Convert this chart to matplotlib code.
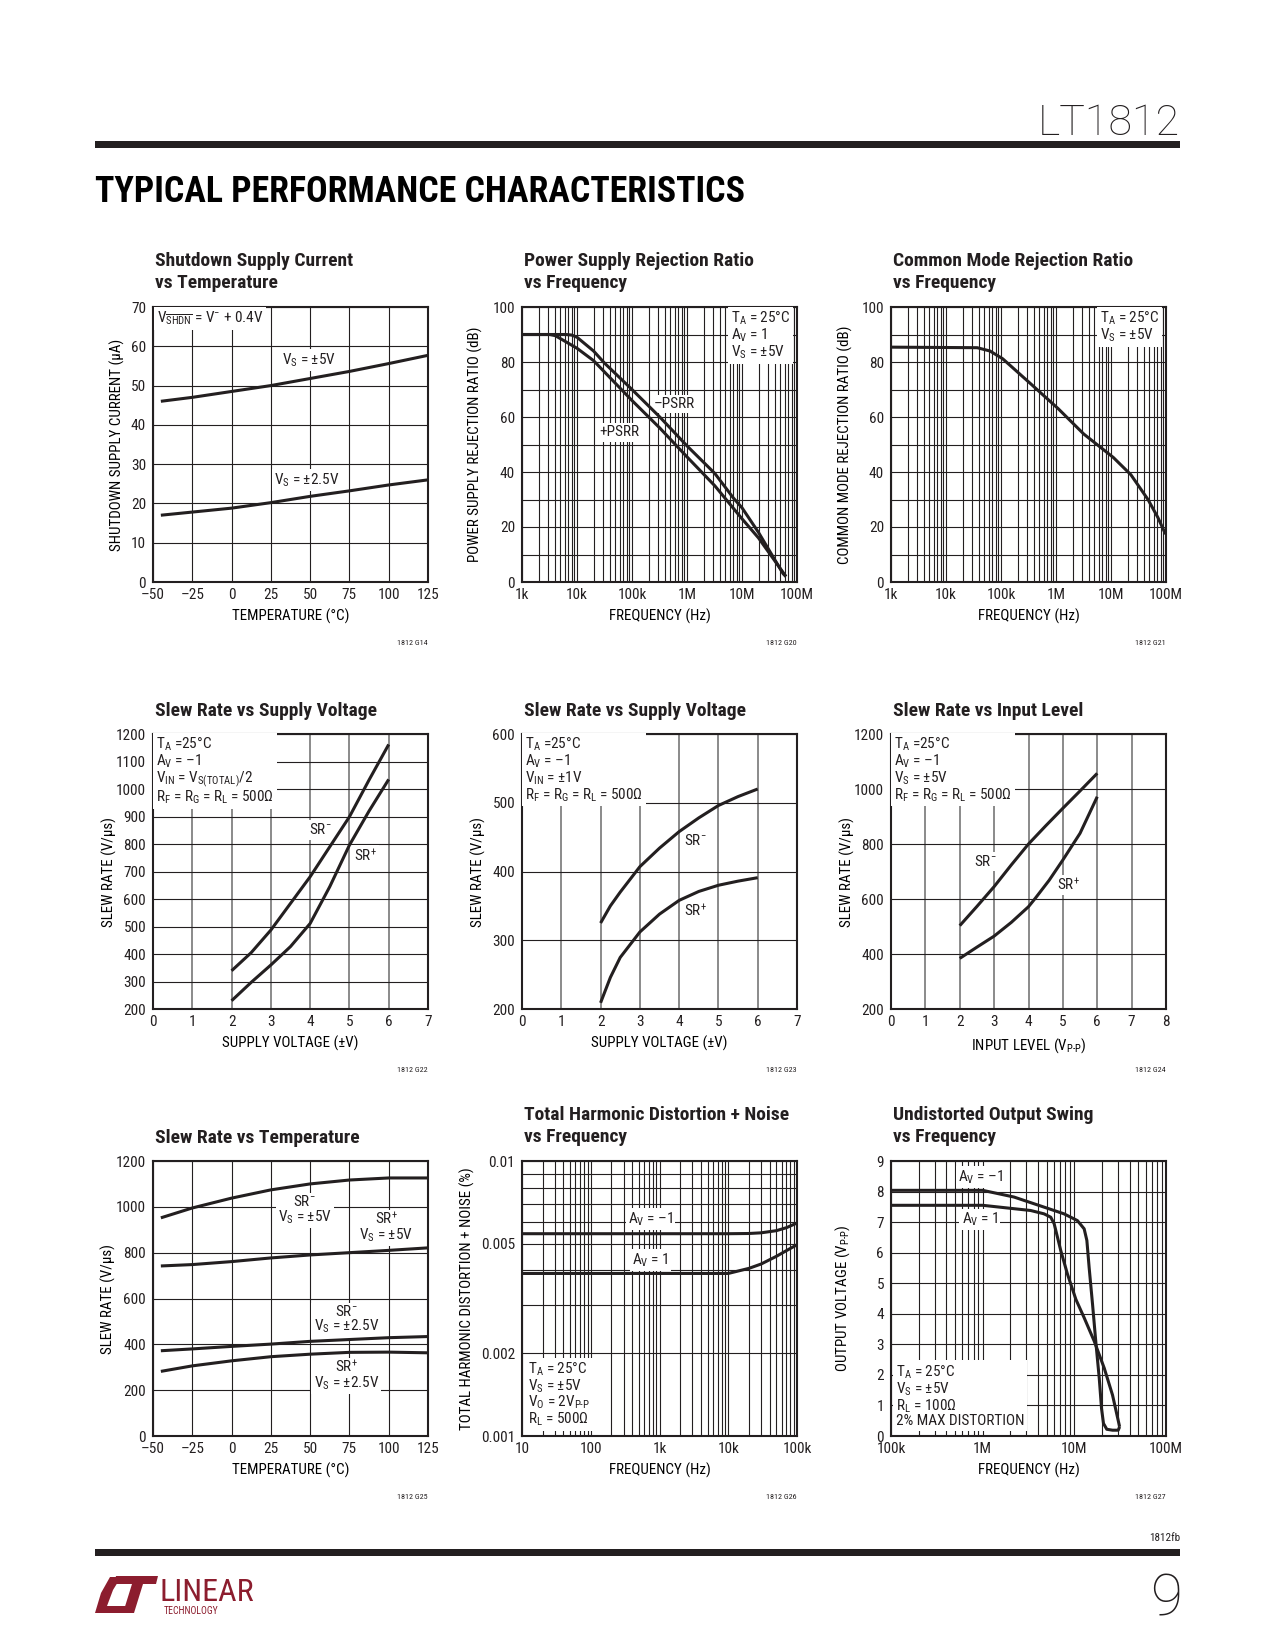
import matplotlib
matplotlib.use('Agg')
import matplotlib.pyplot as plt
from matplotlib import font_manager
from matplotlib.patches import Rectangle, Polygon
from matplotlib.ticker import NullFormatter

W, H = 1275, 1650
INK = '#231f20'
RED = '#8c1d2e'

names = {f.name for f in font_manager.fontManager.ttflist}


def pick(cands):
    for c in cands:
        if c in names:
            return c
    return 'DejaVu Sans'


BODY = pick(['Roboto Condensed', 'Archivo Narrow', 'PT Sans Narrow', 'Liberation Sans Narrow',
             'Liberation Sans'])
THIN = pick(['Roboto', 'Liberation Sans'])

plt.rcParams['font.family'] = [BODY, 'DejaVu Sans']
plt.rcParams['mathtext.fontset'] = 'custom'
plt.rcParams['mathtext.rm'] = BODY
plt.rcParams['mathtext.it'] = BODY + ':italic'
plt.rcParams['mathtext.bf'] = BODY + ':bold'
plt.rcParams['text.color'] = INK

# --- data ---
# shutdown supply current vs temperature
sd_temp = [-45, -25, 0, 25, 50, 75, 100, 125]
sd_5v = [46.0, 47.0, 48.5, 50.0, 51.8, 53.6, 55.6, 57.7]
sd_25v = [17.0, 17.8, 18.8, 20.2, 21.8, 23.2, 24.7, 26.0]

# PSRR vs frequency
psrr_neg_f = [1e3, 4e3, 6.3e3, 8e3, 1e4, 2e4, 3.2e4, 1e5, 3.2e5, 1e6, 3.2e6, 7e6, 1e7, 2e7, 5.6e7, 6.3e7]
psrr_neg = [90, 90, 90, 89.8, 89, 84, 79.5, 70, 60, 49.5, 39.5, 30.5, 27, 18, 3, 2]
psrr_pos_f = [1e3, 3.2e3, 4e3, 5e3, 1e4, 2e4, 1e5, 3.2e5, 1e6, 3.2e6, 1e7, 2e7, 6.3e7]
psrr_pos = [90, 90, 89.6, 88.5, 85, 80.5, 66, 56, 45.5, 35, 23, 16, 2]

# CMRR vs frequency
cmrr_f = [1e3, 3.7e4, 6.3e4, 1.07e5, 3.5e5, 1.1e6, 3.2e6, 1.1e7, 2.3e7, 4.7e7, 7.1e7, 9.8e7]
cmrr = [85.4, 85.2, 84.0, 81.2, 72, 63, 53.8, 45.3, 39, 30, 23.5, 17.4]

# slew rate vs supply voltage, VIN = VS(TOTAL)/2
sr4_vs = [2, 2.5, 3, 3.5, 4, 4.5, 5, 5.5, 6]
sr4_neg = [339, 405, 487, 584, 681, 790, 899, 1033, 1162]
sr4_pos = [230, 297, 360, 427, 511, 645, 796, 920, 1035]

# slew rate vs supply voltage, VIN = +-1V
sr5_vs = [2, 2.25, 2.5, 3, 3.5, 4, 4.5, 5, 5.5, 6]
sr5_neg = [325, 350, 370, 407, 434, 458, 478, 496, 509, 520]
sr5_pos = [209, 246, 275, 312, 338, 358, 371, 380, 386, 391]

# slew rate vs input level
sr6_lvl_neg = [2, 2.5, 3, 3.5, 4, 4.5, 5, 5.5, 6]
sr6_neg = [503, 573, 645, 724, 800, 866, 930, 993, 1057]
sr6_lvl_pos = [2, 2.5, 3, 3.5, 4, 4.2, 4.6, 5, 5.5, 6]
sr6_pos = [384, 425, 465, 515, 572, 603, 668, 742, 839, 972]

# slew rate vs temperature
sr7_temp = [-45, -25, 0, 25, 50, 75, 100, 125]
sr7_neg5 = [952, 995, 1038, 1074, 1100, 1117, 1126, 1126]
sr7_pos5 = [742, 748, 761, 777, 790, 800, 810, 821]
sr7_neg25 = [372, 380, 391, 401, 413, 421, 429, 434]
sr7_pos25 = [282, 306, 328, 346, 357, 365, 366, 363]

# THD + noise vs frequency
thd_f = [10, 1e3, 1e4, 2e4, 3e4, 5e4, 7e4, 1e5]
thd_inv = [0.00544, 0.00544, 0.00544, 0.00545, 0.00548, 0.00558, 0.00572, 0.00595]
thd_ninv = [0.0039, 0.0039, 0.0039, 0.00407, 0.00422, 0.0045, 0.00472, 0.00496]

# undistorted output swing vs frequency
sw_inv_f = [1e5, 1.0e6, 2.2e6, 4.68e6, 7.73e6, 1.08e7, 1.28e7, 1.37e7, 1.45e7, 1.58e7, 1.72e7,
            1.87e7, 1.98e7, 2.08e7, 2.26e7, 2.61e7, 3.01e7, 3.12e7]
sw_inv = [8.04, 8.04, 7.82, 7.49, 7.27, 7.05, 6.78, 6.40, 5.52, 4.31, 3.04,
          1.89, 0.90, 0.41, 0.22, 0.19, 0.19, 0.30]
sw_ninv_f = [1e5, 1.0e6, 3.34e6, 4.68e6, 5.53e6, 6.02e6, 7.11e6, 8.41e6, 1.04e7, 1.28e7,
             1.65e7, 2.12e7, 2.61e7, 3.12e7]
sw_ninv = [7.55, 7.55, 7.38, 7.27, 7.16, 6.95, 6.07, 5.30, 4.47, 3.87, 3.10, 2.22, 1.34, 0.30]

temp_ticks = [-50, -25, 0, 25, 50, 75, 100, 125]
temp_labels = ['\u201350', '\u201325', '0', '25', '50', '75', '100', '125']

TICK = 11
LAB = 10.8
NOTE = 11

fig = plt.figure(figsize=(W / 100, H / 100), dpi=100)


def fx(x):
    return x / W


def fy(y):
    return 1 - y / H


def make_ax(x0, y0, w=275, h=275):
    return fig.add_axes([fx(x0), fy(y0 + h), w / W, h / H])


def decades(lo, hi):
    return [m * 10.0 ** e for e in range(lo, hi) for m in range(2, 10)]


def frame(ax, xt, xtl, yt, ytl, xlabel, ylabel, yoff, xminor=None, yminor=None,
          vcolor=INK, vlw=0.8):
    ax.set_xticks(xt)
    ax.set_xticklabels(xtl)
    ax.set_yticks(yt)
    ax.set_yticklabels(ytl)
    if xminor is not None:
        ax.set_xticks(xminor, minor=True)
        ax.xaxis.set_minor_formatter(NullFormatter())
    if yminor is not None:
        ax.set_yticks(yminor, minor=True)
        ax.yaxis.set_minor_formatter(NullFormatter())
    ax.tick_params(which='both', length=0, labelsize=TICK, colors=INK)
    ax.tick_params(axis='x', pad=4)
    ax.tick_params(axis='y', pad=5)
    ax.xaxis.grid(True, which='both', color=vcolor, lw=vlw)
    ax.yaxis.grid(True, which='both', color=INK, lw=0.8)
    ax.set_axisbelow(True)
    for s in ax.spines.values():
        s.set_linewidth(1.5)
        s.set_color(INK)
    ax.set_xlabel(xlabel, fontsize=LAB)
    ax.xaxis.set_label_coords(0.5, -27 / 275)
    ax.set_ylabel(ylabel, fontsize=LAB)
    ax.yaxis.set_label_coords(-yoff / 275, 0.5)


def title(x0, y0, lines):
    base = [y0 - 41, y0 - 19] if len(lines) == 2 else [y0 - 18]
    for s, b in zip(lines, base):
        fig.text(fx(x0 + 2), fy(b), s, fontsize=14, fontweight='bold', va='baseline', color=INK)


def code(x0, y0, s):
    fig.text(fx(x0 + 275), fy(y0 + 275 + 61), s, fontsize=5.8, ha='right', va='center')


def note(ax, dx, dy, s, va='top', ls=0.95):
    y = 1 - dy / 275 if va == 'top' else dy / 275
    ax.text(dx / 275, y, s, transform=ax.transAxes, fontsize=NOTE, va=va, ha='left',
            linespacing=ls, zorder=3,
            bbox=dict(fc='white', ec='none', pad=2))


def tag(ax, x, y, s, ha='center'):
    ax.text(x, y, s, fontsize=NOTE, ha=ha, va='center', linespacing=0.95, zorder=3,
            bbox=dict(fc='white', ec='none', pad=1.5))


def curve(ax, x, y):
    ax.plot(x, y, color=INK, lw=2.2, zorder=4, solid_capstyle='butt', solid_joinstyle='round')


cols = [153, 522, 891]
rows = [307, 734, 1161]

# ---------------- header / footer ----------------
fig.text(fx(1180), fy(135), 'LT1812', ha='right', va='baseline', fontsize=31,
         family=[THIN, 'DejaVu Sans'], fontweight='light', color=INK)
fig.add_artist(Rectangle((fx(95), fy(148)), fx(1180) - fx(95), 7 / H,
                         transform=fig.transFigure, color=INK, lw=0))
fig.text(fx(95), fy(202), 'TYPICAL PERFORMANCE CHARACTERISTICS', ha='left', va='baseline',
         fontsize=25.8, fontweight='bold', color='black')

fig.text(fx(1180), fy(1541), '1812fb', ha='right', va='baseline', fontsize=8)
fig.add_artist(Rectangle((fx(95), fy(1556)), fx(1180) - fx(95), 7 / H,
                         transform=fig.transFigure, color=INK, lw=0))
fig.text(fx(1182), fy(1615), '9', ha='right', va='baseline', fontsize=42,
         family=[THIN, 'DejaVu Sans'], fontweight='light', color=INK)

logo_l = [(95, 1613), (128, 1613), (129, 1606), (107, 1606), (113, 1590), (121, 1577),
          (110, 1577), (101, 1593)]
logo_t = [(116, 1576), (158, 1576), (156, 1584), (143, 1584), (134, 1613), (123, 1613),
          (132, 1584), (114, 1584)]
for pts in (logo_l, logo_t):
    fig.add_artist(Polygon([(fx(a), fy(b)) for a, b in pts], closed=True,
                           transform=fig.transFigure, color=RED, lw=0))
fig.text(fx(160), fy(1601), 'LINEAR', ha='left', va='baseline', fontsize=23, color=RED)
fig.text(fx(164), fy(1614), 'TECHNOLOGY', ha='left', va='baseline', fontsize=7, color=RED)

# ---------------- 1: shutdown supply current ----------------
x0, y0 = cols[0], rows[0]
ax = make_ax(x0, y0)
curve(ax, sd_temp, sd_5v)
curve(ax, sd_temp, sd_25v)
ax.set_xlim(-50, 125)
ax.set_ylim(0, 70)
frame(ax, temp_ticks, temp_labels, list(range(0, 71, 10)), [str(v) for v in range(0, 71, 10)],
      'TEMPERATURE (\u00b0C)', 'SHUTDOWN SUPPLY CURRENT (\u03bcA)', 28)
note(ax, 4, 3, 'V$_{\\overline{\\mathrm{SHDN}}}$ = V$^{-}$ + 0.4V')
tag(ax, 49, 56.5, 'V$_\\mathrm{S}$ = \u00b15V')
tag(ax, 48, 26, 'V$_\\mathrm{S}$ = \u00b12.5V')
title(x0, y0, ['Shutdown Supply Current', 'vs Temperature'])
code(x0, y0, '1812 G14')

# ---------------- 2: PSRR ----------------
x0, y0 = cols[1], rows[0]
ax = make_ax(x0, y0)
ax.set_xscale('log')
curve(ax, psrr_neg_f, psrr_neg)
curve(ax, psrr_pos_f, psrr_pos)
ax.set_xlim(1e3, 1e8)
ax.set_ylim(0, 100)
frame(ax, [1e3, 1e4, 1e5, 1e6, 1e7, 1e8], ['1k', '10k', '100k', '1M', '10M', '100M'],
      list(range(0, 101, 20)), [str(v) for v in range(0, 101, 20)],
      'FREQUENCY (Hz)', 'POWER SUPPLY REJECTION RATIO (dB)', 39,
      xminor=decades(3, 8), yminor=list(range(10, 100, 20)))
note(ax, 209, 3, 'T$_\\mathrm{A}$ = 25\u00b0C\nA$_\\mathrm{V}$ = 1\nV$_\\mathrm{S}$ = \u00b15V')
tag(ax, 6.0e5, 64.8, '\u2013PSRR')
tag(ax, 5.9e4, 54.4, '+PSRR')
title(x0, y0, ['Power Supply Rejection Ratio', 'vs Frequency'])
code(x0, y0, '1812 G20')

# ---------------- 3: CMRR ----------------
x0, y0 = cols[2], rows[0]
ax = make_ax(x0, y0)
ax.set_xscale('log')
curve(ax, cmrr_f, cmrr)
ax.set_xlim(1e3, 1e8)
ax.set_ylim(0, 100)
frame(ax, [1e3, 1e4, 1e5, 1e6, 1e7, 1e8], ['1k', '10k', '100k', '1M', '10M', '100M'],
      list(range(0, 101, 20)), [str(v) for v in range(0, 101, 20)],
      'FREQUENCY (Hz)', 'COMMON MODE REJECTION RATIO (dB)', 38,
      xminor=decades(3, 8), yminor=list(range(10, 100, 20)))
note(ax, 209, 3, 'T$_\\mathrm{A}$ = 25\u00b0C\nV$_\\mathrm{S}$ = \u00b15V')
title(x0, y0, ['Common Mode Rejection Ratio', 'vs Frequency'])
code(x0, y0, '1812 G21')

# ---------------- 4: slew rate vs supply (VIN = VS/2) ----------------
x0, y0 = cols[0], rows[1]
ax = make_ax(x0, y0)
curve(ax, sr4_vs, sr4_neg)
curve(ax, sr4_vs, sr4_pos)
ax.set_xlim(0, 7)
ax.set_ylim(200, 1200)
frame(ax, list(range(8)), [str(v) for v in range(8)],
      list(range(200, 1201, 100)), [str(v) for v in range(200, 1201, 100)],
      'SUPPLY VOLTAGE (\u00b1V)', 'SLEW RATE (V/\u03bcs)', 36, vcolor='#8a8a8a', vlw=1.4)
note(ax, 3, 2, 'T$_\\mathrm{A}$ =25\u00b0C\nA$_\\mathrm{V}$ = \u20131\n'
      'V$_\\mathrm{IN}$ = V$_\\mathrm{S(TOTAL)}$/2\nR$_\\mathrm{F}$ = R$_\\mathrm{G}$ = R$_\\mathrm{L}$ = 500\u03a9')
tag(ax, 4.26, 851, 'SR$^{-}$')
tag(ax, 5.4, 757, 'SR$^{+}$')
title(x0, y0, ['Slew Rate vs Supply Voltage'])
code(x0, y0, '1812 G22')

# ---------------- 5: slew rate vs supply (VIN = +-1V) ----------------
x0, y0 = cols[1], rows[1]
ax = make_ax(x0, y0)
curve(ax, sr5_vs, sr5_neg)
curve(ax, sr5_vs, sr5_pos)
ax.set_xlim(0, 7)
ax.set_ylim(200, 600)
frame(ax, list(range(8)), [str(v) for v in range(8)],
      list(range(200, 601, 100)), [str(v) for v in range(200, 601, 100)],
      'SUPPLY VOLTAGE (\u00b1V)', 'SLEW RATE (V/\u03bcs)', 36, vcolor='#8a8a8a', vlw=1.4)
note(ax, 3, 2, 'T$_\\mathrm{A}$ =25\u00b0C\nA$_\\mathrm{V}$ = \u20131\n'
      'V$_\\mathrm{IN}$ = \u00b11V\nR$_\\mathrm{F}$ = R$_\\mathrm{G}$ = R$_\\mathrm{L}$ = 500\u03a9')
tag(ax, 4.41, 445, 'SR$^{-}$')
tag(ax, 4.41, 343, 'SR$^{+}$')
title(x0, y0, ['Slew Rate vs Supply Voltage'])
code(x0, y0, '1812 G23')

# ---------------- 6: slew rate vs input level ----------------
x0, y0 = cols[2], rows[1]
ax = make_ax(x0, y0)
curve(ax, sr6_lvl_neg, sr6_neg)
curve(ax, sr6_lvl_pos, sr6_pos)
ax.set_xlim(0, 8)
ax.set_ylim(200, 1200)
frame(ax, list(range(9)), [str(v) for v in range(9)],
      list(range(200, 1201, 200)), [str(v) for v in range(200, 1201, 200)],
      'INPUT LEVEL (V$_\\mathrm{P\\text{-}P}$)', 'SLEW RATE (V/\u03bcs)', 36,
      vcolor='#8a8a8a', vlw=1.4)
note(ax, 3, 2, 'T$_\\mathrm{A}$ =25\u00b0C\nA$_\\mathrm{V}$ = \u20131\n'
      'V$_\\mathrm{S}$ = \u00b15V\nR$_\\mathrm{F}$ = R$_\\mathrm{G}$ = R$_\\mathrm{L}$ = 500\u03a9')
tag(ax, 2.74, 736, 'SR$^{-}$')
tag(ax, 5.17, 651, 'SR$^{+}$')
title(x0, y0, ['Slew Rate vs Input Level'])
code(x0, y0, '1812 G24')

# ---------------- 7: slew rate vs temperature ----------------
x0, y0 = cols[0], rows[2]
ax = make_ax(x0, y0)
for s in (sr7_neg5, sr7_pos5, sr7_neg25, sr7_pos25):
    curve(ax, sr7_temp, s)
ax.set_xlim(-50, 125)
ax.set_ylim(0, 1200)
frame(ax, temp_ticks, temp_labels,
      list(range(0, 1201, 200)), [str(v) for v in range(0, 1201, 200)],
      'TEMPERATURE (\u00b0C)', 'SLEW RATE (V/\u03bcs)', 37)
tag(ax, 46.5, 987, 'SR$^{-}$\nV$_\\mathrm{S}$ = \u00b15V')
tag(ax, 98.5, 911, 'SR$^{+}$\nV$_\\mathrm{S}$ = \u00b15V')
tag(ax, 73, 508, 'SR$^{-}$\nV$_\\mathrm{S}$ = \u00b12.5V')
tag(ax, 73, 266, 'SR$^{+}$\nV$_\\mathrm{S}$ = \u00b12.5V')
title(x0, y0, ['Slew Rate vs Temperature'])
code(x0, y0, '1812 G25')

# ---------------- 8: THD + noise ----------------
x0, y0 = cols[1], rows[2]
ax = make_ax(x0, y0)
ax.set_xscale('log')
ax.set_yscale('log')
curve(ax, thd_f, thd_inv)
curve(ax, thd_f, thd_ninv)
ax.set_xlim(10, 1e5)
ax.set_ylim(0.001, 0.01)
frame(ax, [10, 100, 1e3, 1e4, 1e5], ['10', '100', '1k', '10k', '100k'],
      [0.001, 0.002, 0.005, 0.01], ['0.001', '0.002', '0.005', '0.01'],
      'FREQUENCY (Hz)', 'TOTAL HARMONIC DISTORTION + NOISE (%)', 47,
      xminor=decades(1, 5), yminor=[0.003, 0.004, 0.006, 0.007, 0.008, 0.009])
note(ax, 6, 8, 'T$_\\mathrm{A}$ = 25\u00b0C\nV$_\\mathrm{S}$ = \u00b15V\n'
      'V$_\\mathrm{O}$ = 2V$_\\mathrm{P\\text{-}P}$\nR$_\\mathrm{L}$ = 500\u03a9', va='bottom')
tag(ax, 740, 0.00616, 'A$_\\mathrm{V}$ = \u20131')
tag(ax, 740, 0.00437, 'A$_\\mathrm{V}$ = 1')
title(x0, y0, ['Total Harmonic Distortion + Noise', 'vs Frequency'])
code(x0, y0, '1812 G26')

# ---------------- 9: undistorted output swing ----------------
x0, y0 = cols[2], rows[2]
ax = make_ax(x0, y0)
ax.set_xscale('log')
curve(ax, sw_inv_f, sw_inv)
curve(ax, sw_ninv_f, sw_ninv)
ax.set_xlim(1e5, 1e8)
ax.set_ylim(0, 9)
frame(ax, [1e5, 1e6, 1e7, 1e8], ['100k', '1M', '10M', '100M'],
      list(range(10)), [str(v) for v in range(10)],
      'FREQUENCY (Hz)', 'OUTPUT VOLTAGE (V$_\\mathrm{P\\text{-}P}$)', 39,
      xminor=decades(5, 8))
note(ax, 5, 8, 'T$_\\mathrm{A}$ = 25\u00b0C\nV$_\\mathrm{S}$ = \u00b15V\n'
      'R$_\\mathrm{L}$ = 100\u03a9\n2% MAX DISTORTION', va='bottom')
tag(ax, 9.5e5, 8.48, 'A$_\\mathrm{V}$ = \u20131')
tag(ax, 9.3e5, 7.09, 'A$_\\mathrm{V}$ = 1')
title(x0, y0, ['Undistorted Output Swing', 'vs Frequency'])
code(x0, y0, '1812 G27')

fig.savefig('out.png', dpi=100, facecolor='white')
